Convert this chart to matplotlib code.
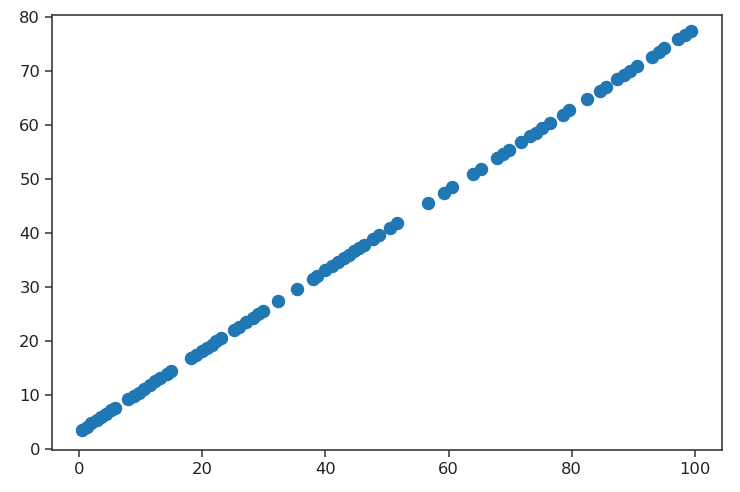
"""
Scatter of y against x (points lie on a straight line)
"""
import matplotlib
matplotlib.use("Agg")
import matplotlib.pyplot as plt

# values
x_vals = [0.4, 1.2, 2.0, 2.9, 3.6, 4.4, 5.2, 5.8,
          8.0, 8.9, 9.7, 10.6, 11.5, 12.4, 13.2, 14.3, 15.0,
          18.2, 19.0, 19.9, 20.7, 21.5, 22.3, 23.1,
          25.2, 26.0, 27.1, 28.2, 29.0, 29.8,
          32.3, 35.4, 37.9, 38.6,
          40.0, 41.1, 42.0, 43.0, 43.8, 44.7, 45.5, 46.3, 47.8, 48.7,
          50.5, 51.7,
          56.7, 59.2, 60.6,
          63.9, 65.2,
          67.8, 68.8, 69.8,
          71.8, 73.2, 74.2, 75.2, 76.4,
          78.6, 79.6,
          82.5, 84.6, 85.5,
          87.4, 88.5, 89.5, 90.6,
          93.0, 94.2, 95.0,
          97.3, 98.4, 99.4]
y_vals = [3.5, 4.1, 4.7, 5.4, 5.9, 6.5, 7.1, 7.5,
          9.2, 9.8, 10.4, 11.1, 11.8, 12.5, 13.1, 13.9, 14.4,
          16.8, 17.4, 18.1, 18.7, 19.3, 19.9, 20.5,
          22.0, 22.6, 23.4, 24.3, 24.9, 25.5,
          27.3, 29.6, 31.5, 32.0,
          33.1, 33.9, 34.6, 35.3, 35.9, 36.6, 37.2, 37.8, 38.9, 39.6,
          40.9, 41.8,
          45.6, 47.4, 48.5,
          50.9, 51.9,
          53.8, 54.6, 55.3,
          56.8, 57.9, 58.6, 59.4, 60.3,
          61.9, 62.7,
          64.8, 66.4, 67.1,
          68.5, 69.3, 70.1, 70.9,
          72.7, 73.6, 74.2,
          75.9, 76.7, 77.5]

fig = plt.figure(figsize=(7.4, 4.92), dpi=100)
ax = fig.add_axes([0.0703, 0.0854, 0.9054, 0.8841])
ax.scatter(x_vals, y_vals, s=75, color='#1f77b4')
ax.set_xlim(-4.4, 104.4)
ax.set_ylim(-0.25, 80.4)
ax.set_xticks([0, 20, 40, 60, 80, 100])
ax.set_yticks([0, 10, 20, 30, 40, 50, 60, 70, 80])
ax.tick_params(labelsize=11.8, length=5, width=1.1, color='#333333', labelcolor='#222222')
for sp in ax.spines.values():
    sp.set_linewidth(1.15)
    sp.set_color('#333333')
fig.savefig("out.png", dpi=100)
